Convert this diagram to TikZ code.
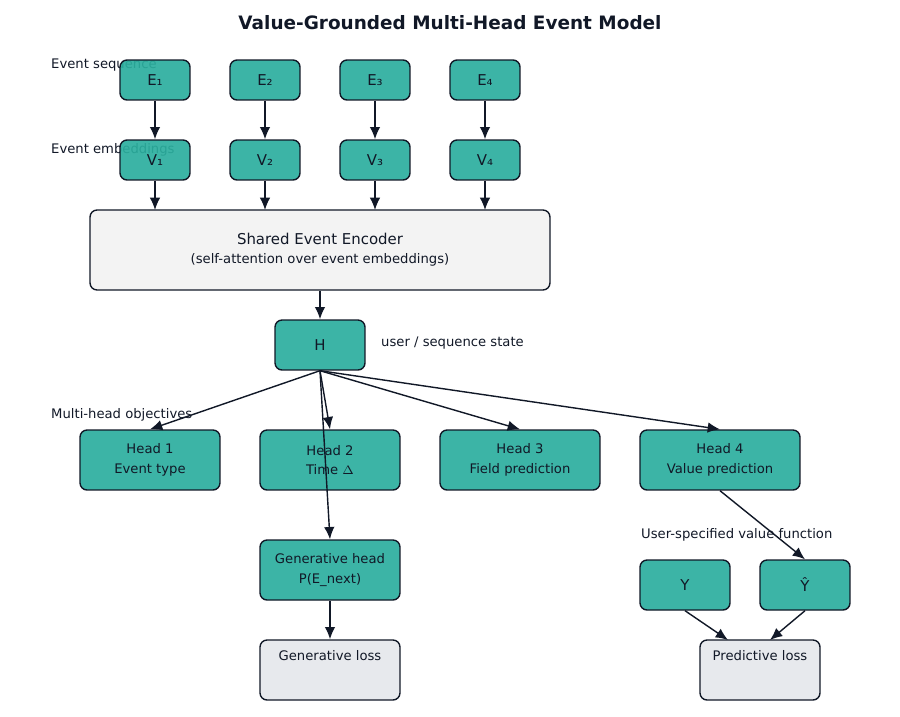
\documentclass[tikz,border=0pt]{standalone}
\usepackage{fontspec}
\setmainfont{DejaVu Sans}
\usepackage{tikz}
\usetikzlibrary{arrows.meta}
\definecolor{tealbox}{HTML}{2BAE9E}
\definecolor{edge}{HTML}{111827}
\definecolor{lossbox}{HTML}{E5E7EB}
\definecolor{encbox}{HTML}{F2F2F2}

\begin{document}
\begin{tikzpicture}[x=0.02cm, y=-0.02cm, every node/.style={font=\fontsize{7.5}{9}\selectfont, text=edge},
  box/.style={draw=edge, line width=0.8pt, rounded corners=4pt, fill=tealbox, fill opacity=0.92, text opacity=1, inner sep=0pt, align=center},
  tok/.style={box, minimum width=1.4cm, minimum height=0.8cm, font=\fontsize{8.5}{10}\selectfont},
  head/.style={box, minimum width=2.8cm, minimum height=1.2cm},
  loss/.style={head, fill=lossbox},
  lbl/.style={anchor=west, font=\fontsize{7.5}{9}\selectfont},
  arr/.style={-{Latex[length=7pt,width=6pt]}, draw=edge, line width=0.8pt}]
  \useasboundingbox (0,0) rectangle (900,717);
  \node[font=\bfseries\fontsize{10.5}{12}\selectfont] (title) at (450,23) {Value-Grounded Multi-Head Event Model};
  % side labels (behind boxes)
  \node[lbl] (lseq) at (45,65) {Event sequence};
  \node[lbl] (lemb) at (45,150) {Event embeddings};
  \node[lbl] (lobj) at (45,415) {Multi-head objectives};
  \node[lbl] (lval) at (635,535) {User-specified value function};
  % tokens
  \foreach \i/\x/\s in {1/155/₁,2/265/₂,3/375/₃,4/485/₄} {
    \node[tok] (e\i) at (\x,80) {E\s};
    \node[tok] (v\i) at (\x,160) {V\s};
  }
  \node[box, fill=encbox, minimum width=9.2cm, minimum height=1.6cm, font=\fontsize{8.5}{10}\selectfont] (enc) at (320,250)
    {Shared Event Encoder\\[1pt]{\fontsize{7.5}{9}\selectfont (self-attention over event embeddings)}};
  \foreach \i/\x in {1/155,2/265,3/375,4/485} {
    \draw[arr] (e\i) -- (v\i);
    \draw[arr] (v\i) -- (\x,210);
  }
  \node[tok, minimum width=1.8cm, minimum height=1cm] (h) at (320,345) {H};
  \node[lbl] (lh) at (375,343) {user / sequence state};
  \draw[arr] (enc) -- (h);
  % heads
  \node[head] (h1) at (150,460) {Head 1\\[2pt]Event type};
  \node[head] (h2) at (330,460) {Head 2\\[2pt]Time $\Delta$};
  \node[head, minimum width=3.2cm] (h3) at (520,460) {Head 3\\[2pt]Field prediction};
  \node[head, minimum width=3.2cm] (h4) at (720,460) {Head 4\\[2pt]Value prediction};
  \node[head] (gen) at (330,570) {Generative head\\[2pt]P(E\_next)};
  \node[loss] (gl) at (330,670) {Generative loss\\[8pt]};
  \node[tok, minimum width=1.8cm, minimum height=1cm] (y) at (685,585) {Y};
  \node[tok, minimum width=1.8cm, minimum height=1cm] (yh) at (805,585) {Ŷ};
  \node[loss, minimum width=2.4cm] (pl) at (760,670) {Predictive loss\\[8pt]};
  \draw[arr] (h.south) -- (h1.north);
  \draw[arr] (h.south) -- (h2.north);
  \draw[arr] (h.south) -- (h3.north);
  \draw[arr] (h.south) -- (h4.north);
  \draw[arr] (h.south) -- (gen.north);
  \draw[arr] (gen) -- (gl);
  \draw[arr] (h4.south) -- (yh.north);
  \draw[arr] (y.south) -- (728,640);
  \draw[arr] (yh.south) -- (770,640);
\end{tikzpicture}
\end{document}
